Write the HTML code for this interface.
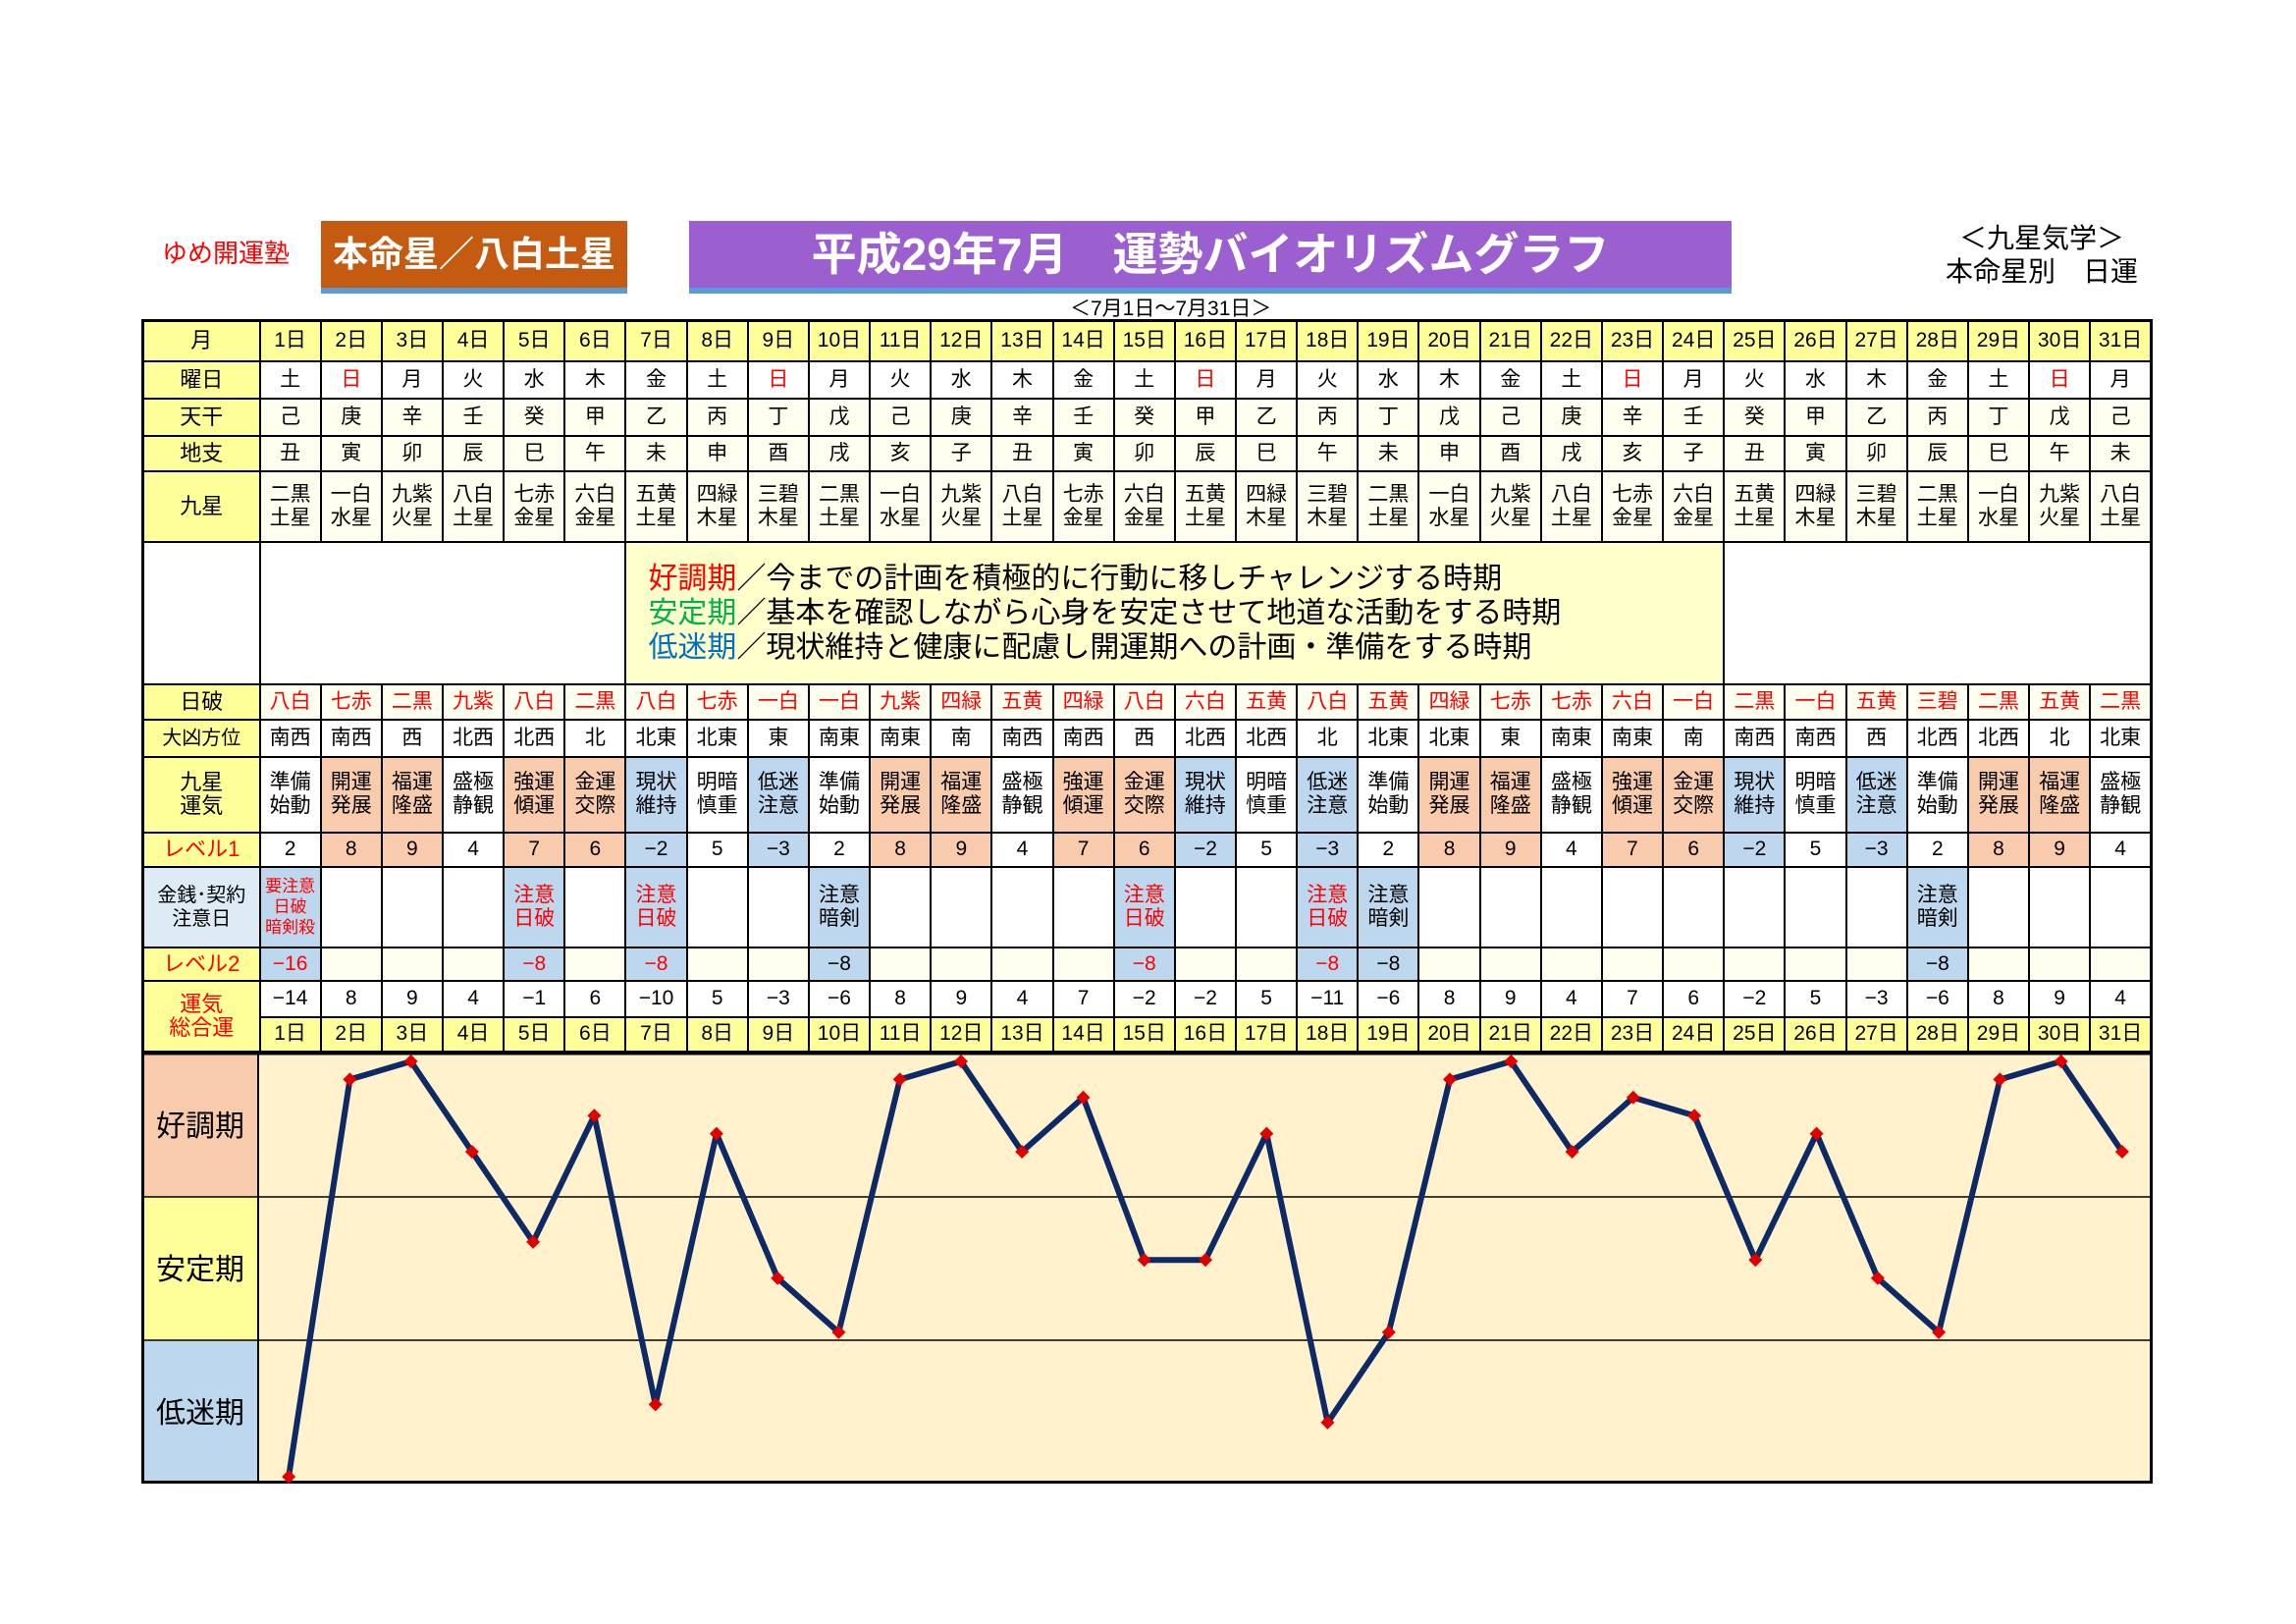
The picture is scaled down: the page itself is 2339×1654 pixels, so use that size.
<!DOCTYPE html>
<html><head><meta charset="utf-8">
<style>
body{margin:0;width:2339px;height:1654px;background:#fff;position:relative;overflow:hidden;font-family:"Liberation Sans","Noto Sans CJK JP",sans-serif;}
.abs{position:absolute;}
table{position:absolute;left:144px;top:325px;width:2049px;border-collapse:collapse;table-layout:fixed;border:3px solid #000;}
td{border:2px solid #000;text-align:center;vertical-align:middle;padding:0;font-size:21px;line-height:24px;color:#000;overflow:hidden;}
col.l{width:119px}
.y{background:#ffff99}
.c{background:#fffff0}
.w{background:#fff}
.o{background:#f8cbad}
.b{background:#bdd7ee}
.lb{background:#ddebf7}
td.r,tr.r td{color:#f00}
.lab{font-size:22px}
.sm{font-size:17px;line-height:21px}
</style></head><body>
<div class="abs" style="left:165px;top:238px;font-size:26px;color:#f00;">ゆめ開運塾</div>
<div class="abs" style="left:327px;top:225px;width:312px;height:68px;background:#c55a11;border-bottom:6px solid #5b9bd5;color:#fff;font-weight:bold;font-size:36px;line-height:68px;text-align:center;">本命星／八白土星</div>
<div class="abs" style="left:702px;top:225px;width:1062px;height:68px;background:#9b5fd0;border-bottom:6px solid #5b9bd5;color:#fff;font-weight:bold;font-size:46px;line-height:68px;text-align:center;">平成29年7月　運勢バイオリズムグラフ</div>
<div class="abs" style="left:1090px;top:298px;font-size:21px;">＜7月1日～7月31日＞</div>
<div class="abs" style="left:1960px;top:226px;width:240px;text-align:center;font-size:28px;line-height:34px;">＜九星気学＞<br>本命星別　日運</div>

<table>
<colgroup><col class="l"><col span="31"></colgroup>
<tr style="height:41px" class="y"><td class="lab">月</td><td>1日</td><td>2日</td><td>3日</td><td>4日</td><td>5日</td><td>6日</td><td>7日</td><td>8日</td><td>9日</td><td>10日</td><td>11日</td><td>12日</td><td>13日</td><td>14日</td><td>15日</td><td>16日</td><td>17日</td><td>18日</td><td>19日</td><td>20日</td><td>21日</td><td>22日</td><td>23日</td><td>24日</td><td>25日</td><td>26日</td><td>27日</td><td>28日</td><td>29日</td><td>30日</td><td>31日</td></tr>
<tr style="height:38px" class="w"><td class="y lab">曜日</td><td>土</td><td class="r">日</td><td>月</td><td>火</td><td>水</td><td>木</td><td>金</td><td>土</td><td class="r">日</td><td>月</td><td>火</td><td>水</td><td>木</td><td>金</td><td>土</td><td class="r">日</td><td>月</td><td>火</td><td>水</td><td>木</td><td>金</td><td>土</td><td class="r">日</td><td>月</td><td>火</td><td>水</td><td>木</td><td>金</td><td>土</td><td class="r">日</td><td>月</td></tr>
<tr style="height:38px" class="c"><td class="y lab">天干</td><td>己</td><td>庚</td><td>辛</td><td>壬</td><td>癸</td><td>甲</td><td>乙</td><td>丙</td><td>丁</td><td>戊</td><td>己</td><td>庚</td><td>辛</td><td>壬</td><td>癸</td><td>甲</td><td>乙</td><td>丙</td><td>丁</td><td>戊</td><td>己</td><td>庚</td><td>辛</td><td>壬</td><td>癸</td><td>甲</td><td>乙</td><td>丙</td><td>丁</td><td>戊</td><td>己</td></tr>
<tr style="height:36px" class="c"><td class="y lab">地支</td><td>丑</td><td>寅</td><td>卯</td><td>辰</td><td>巳</td><td>午</td><td>未</td><td>申</td><td>酉</td><td>戌</td><td>亥</td><td>子</td><td>丑</td><td>寅</td><td>卯</td><td>辰</td><td>巳</td><td>午</td><td>未</td><td>申</td><td>酉</td><td>戌</td><td>亥</td><td>子</td><td>丑</td><td>寅</td><td>卯</td><td>辰</td><td>巳</td><td>午</td><td>未</td></tr>
<tr style="height:72px" class="c"><td class="y lab">九星</td><td>二黒<br>土星</td><td>一白<br>水星</td><td>九紫<br>火星</td><td>八白<br>土星</td><td>七赤<br>金星</td><td>六白<br>金星</td><td>五黄<br>土星</td><td>四緑<br>木星</td><td>三碧<br>木星</td><td>二黒<br>土星</td><td>一白<br>水星</td><td>九紫<br>火星</td><td>八白<br>土星</td><td>七赤<br>金星</td><td>六白<br>金星</td><td>五黄<br>土星</td><td>四緑<br>木星</td><td>三碧<br>木星</td><td>二黒<br>土星</td><td>一白<br>水星</td><td>九紫<br>火星</td><td>八白<br>土星</td><td>七赤<br>金星</td><td>六白<br>金星</td><td>五黄<br>土星</td><td>四緑<br>木星</td><td>三碧<br>木星</td><td>二黒<br>土星</td><td>一白<br>水星</td><td>九紫<br>火星</td><td>八白<br>土星</td></tr>
<tr style="height:145px" class="w"><td></td><td colspan="6"></td><td colspan="18" style="background:#ffffcc;text-align:left;padding-left:22px;font-size:30px;line-height:35px;"><span style="color:#f00">好調期</span>／今までの計画を積極的に行動に移しチャレンジする時期<br><span style="color:#00b050">安定期</span>／基本を確認しながら心身を安定させて地道な活動をする時期<br><span style="color:#0070c0">低迷期</span>／現状維持と健康に配慮し開運期への計画・準備をする時期</td><td colspan="7"></td></tr>
<tr style="height:36px" class="c r"><td class="y lab" style="color:#000">日破</td><td>八白</td><td>七赤</td><td>二黒</td><td>九紫</td><td>八白</td><td>二黒</td><td>八白</td><td>七赤</td><td>一白</td><td>一白</td><td>九紫</td><td>四緑</td><td>五黄</td><td>四緑</td><td>八白</td><td>六白</td><td>五黄</td><td>八白</td><td>五黄</td><td>四緑</td><td>七赤</td><td>七赤</td><td>六白</td><td>一白</td><td>二黒</td><td>一白</td><td>五黄</td><td>三碧</td><td>二黒</td><td>五黄</td><td>二黒</td></tr>
<tr style="height:38px" class="w"><td class="y" style="font-size:20px">大凶方位</td><td>南西</td><td>南西</td><td>西</td><td>北西</td><td>北西</td><td>北</td><td>北東</td><td>北東</td><td>東</td><td>南東</td><td>南東</td><td>南</td><td>南西</td><td>南西</td><td>西</td><td>北西</td><td>北西</td><td>北</td><td>北東</td><td>北東</td><td>東</td><td>南東</td><td>南東</td><td>南</td><td>南西</td><td>南西</td><td>西</td><td>北西</td><td>北西</td><td>北</td><td>北東</td></tr>
<tr style="height:77px" class="w"><td class="y lab">九星<br>運気</td><td>準備<br>始動</td><td class="o">開運<br>発展</td><td class="o">福運<br>隆盛</td><td>盛極<br>静観</td><td class="o">強運<br>傾運</td><td class="o">金運<br>交際</td><td class="b">現状<br>維持</td><td>明暗<br>慎重</td><td class="b">低迷<br>注意</td><td>準備<br>始動</td><td class="o">開運<br>発展</td><td class="o">福運<br>隆盛</td><td>盛極<br>静観</td><td class="o">強運<br>傾運</td><td class="o">金運<br>交際</td><td class="b">現状<br>維持</td><td>明暗<br>慎重</td><td class="b">低迷<br>注意</td><td>準備<br>始動</td><td class="o">開運<br>発展</td><td class="o">福運<br>隆盛</td><td>盛極<br>静観</td><td class="o">強運<br>傾運</td><td class="o">金運<br>交際</td><td class="b">現状<br>維持</td><td>明暗<br>慎重</td><td class="b">低迷<br>注意</td><td>準備<br>始動</td><td class="o">開運<br>発展</td><td class="o">福運<br>隆盛</td><td>盛極<br>静観</td></tr>
<tr style="height:35px" class="w"><td class="y lab r">レベル1</td><td>2</td><td class="o">8</td><td class="o">9</td><td>4</td><td class="o">7</td><td class="o">6</td><td class="b">−2</td><td>5</td><td class="b">−3</td><td>2</td><td class="o">8</td><td class="o">9</td><td>4</td><td class="o">7</td><td class="o">6</td><td class="b">−2</td><td>5</td><td class="b">−3</td><td>2</td><td class="o">8</td><td class="o">9</td><td>4</td><td class="o">7</td><td class="o">6</td><td class="b">−2</td><td>5</td><td class="b">−3</td><td>2</td><td class="o">8</td><td class="o">9</td><td>4</td></tr>
<tr style="height:82px" class="w"><td class="lb" style="font-size:20px">金銭･契約<br>注意日</td><td class="b r sm">要注意<br>日破<br>暗剣殺</td><td></td><td></td><td></td><td class="b r">注意<br>日破</td><td></td><td class="b r">注意<br>日破</td><td></td><td></td><td class="b">注意<br>暗剣</td><td></td><td></td><td></td><td></td><td class="b r">注意<br>日破</td><td></td><td></td><td class="b r">注意<br>日破</td><td class="b">注意<br>暗剣</td><td></td><td></td><td></td><td></td><td></td><td></td><td></td><td></td><td class="b">注意<br>暗剣</td><td></td><td></td><td></td></tr>
<tr style="height:34px" class="c"><td class="y lab r">レベル2</td><td class="b r">−16</td><td></td><td></td><td></td><td class="b r">−8</td><td></td><td class="b r">−8</td><td></td><td></td><td class="b">−8</td><td></td><td></td><td></td><td></td><td class="b r">−8</td><td></td><td></td><td class="b r">−8</td><td class="b">−8</td><td></td><td></td><td></td><td></td><td></td><td></td><td></td><td></td><td class="b">−8</td><td></td><td></td><td></td></tr>
<tr style="height:37px" class="w"><td class="y lab r" rowspan="2">運気<br>総合運</td><td>−14</td><td>8</td><td>9</td><td>4</td><td>−1</td><td>6</td><td>−10</td><td>5</td><td>−3</td><td>−6</td><td>8</td><td>9</td><td>4</td><td>7</td><td>−2</td><td>−2</td><td>5</td><td>−11</td><td>−6</td><td>8</td><td>9</td><td>4</td><td>7</td><td>6</td><td>−2</td><td>5</td><td>−3</td><td>−6</td><td>8</td><td>9</td><td>4</td></tr>
<tr style="height:36px" class="y"><td>1日</td><td>2日</td><td>3日</td><td>4日</td><td>5日</td><td>6日</td><td>7日</td><td>8日</td><td>9日</td><td>10日</td><td>11日</td><td>12日</td><td>13日</td><td>14日</td><td>15日</td><td>16日</td><td>17日</td><td>18日</td><td>19日</td><td>20日</td><td>21日</td><td>22日</td><td>23日</td><td>24日</td><td>25日</td><td>26日</td><td>27日</td><td>28日</td><td>29日</td><td>30日</td><td>31日</td></tr>
</table>

<svg class="abs" style="left:144px;top:1073px" width="2052" height="442" viewBox="0 0 2052 442">
<rect x="0" y="0" width="2049" height="438" fill="#fff2cc"/>
<rect x="0" y="0" width="119" height="146" fill="#f8cbad"/>
<rect x="0" y="146" width="119" height="146" fill="#ffff99"/>
<rect x="0" y="292" width="119" height="146" fill="#bdd7ee"/>
<line x1="0" y1="146" x2="2049" y2="146" stroke="#000" stroke-width="1.5"/>
<line x1="0" y1="292" x2="2049" y2="292" stroke="#000" stroke-width="1.5"/>
<line x1="119" y1="0" x2="119" y2="438" stroke="#000" stroke-width="2"/>
<rect x="1.5" y="0" width="2046" height="436.5" fill="none" stroke="#000" stroke-width="3"/>
<g font-family="Liberation Sans, Noto Sans CJK JP, sans-serif" font-size="30" text-anchor="middle">
<text x="60" y="84">好調期</text><text x="60" y="230">安定期</text><text x="60" y="376">低迷期</text>
</g>
<polyline fill="none" stroke="#0d2a66" stroke-width="6" stroke-linejoin="round" points="150.1,431 212.4,26.4 274.6,8 336.9,100 399.1,191.9 461.4,63.2 523.7,357.4 585.9,81.6 648.2,228.7 710.4,283.9 772.7,26.4 835,8 897.2,100 959.5,44.8 1021.7,210.3 1084,210.3 1146.3,81.6 1208.5,375.8 1270.8,283.9 1333,26.4 1395.3,8 1457.6,100 1519.8,44.8 1582.1,63.2 1644.3,210.3 1706.6,81.6 1768.9,228.7 1831.1,283.9 1893.4,26.4 1955.6,8 2017.9,100"/>
<g fill="#e00000">
<path d="M150.1,424l7,7l-7,7l-7,-7z"/><path d="M212.4,19.4l7,7l-7,7l-7,-7z"/><path d="M274.6,1l7,7l-7,7l-7,-7z"/><path d="M336.9,93l7,7l-7,7l-7,-7z"/><path d="M399.1,184.9l7,7l-7,7l-7,-7z"/><path d="M461.4,56.2l7,7l-7,7l-7,-7z"/><path d="M523.7,350.4l7,7l-7,7l-7,-7z"/><path d="M585.9,74.6l7,7l-7,7l-7,-7z"/><path d="M648.2,221.7l7,7l-7,7l-7,-7z"/><path d="M710.4,276.9l7,7l-7,7l-7,-7z"/><path d="M772.7,19.4l7,7l-7,7l-7,-7z"/><path d="M835,1l7,7l-7,7l-7,-7z"/><path d="M897.2,93l7,7l-7,7l-7,-7z"/><path d="M959.5,37.8l7,7l-7,7l-7,-7z"/><path d="M1021.7,203.3l7,7l-7,7l-7,-7z"/><path d="M1084,203.3l7,7l-7,7l-7,-7z"/><path d="M1146.3,74.6l7,7l-7,7l-7,-7z"/><path d="M1208.5,368.8l7,7l-7,7l-7,-7z"/><path d="M1270.8,276.9l7,7l-7,7l-7,-7z"/><path d="M1333,19.4l7,7l-7,7l-7,-7z"/><path d="M1395.3,1l7,7l-7,7l-7,-7z"/><path d="M1457.6,93l7,7l-7,7l-7,-7z"/><path d="M1519.8,37.8l7,7l-7,7l-7,-7z"/><path d="M1582.1,56.2l7,7l-7,7l-7,-7z"/><path d="M1644.3,203.3l7,7l-7,7l-7,-7z"/><path d="M1706.6,74.6l7,7l-7,7l-7,-7z"/><path d="M1768.9,221.7l7,7l-7,7l-7,-7z"/><path d="M1831.1,276.9l7,7l-7,7l-7,-7z"/><path d="M1893.4,19.4l7,7l-7,7l-7,-7z"/><path d="M1955.6,1l7,7l-7,7l-7,-7z"/><path d="M2017.9,93l7,7l-7,7l-7,-7z"/>
</g>
</svg>
</body></html>
